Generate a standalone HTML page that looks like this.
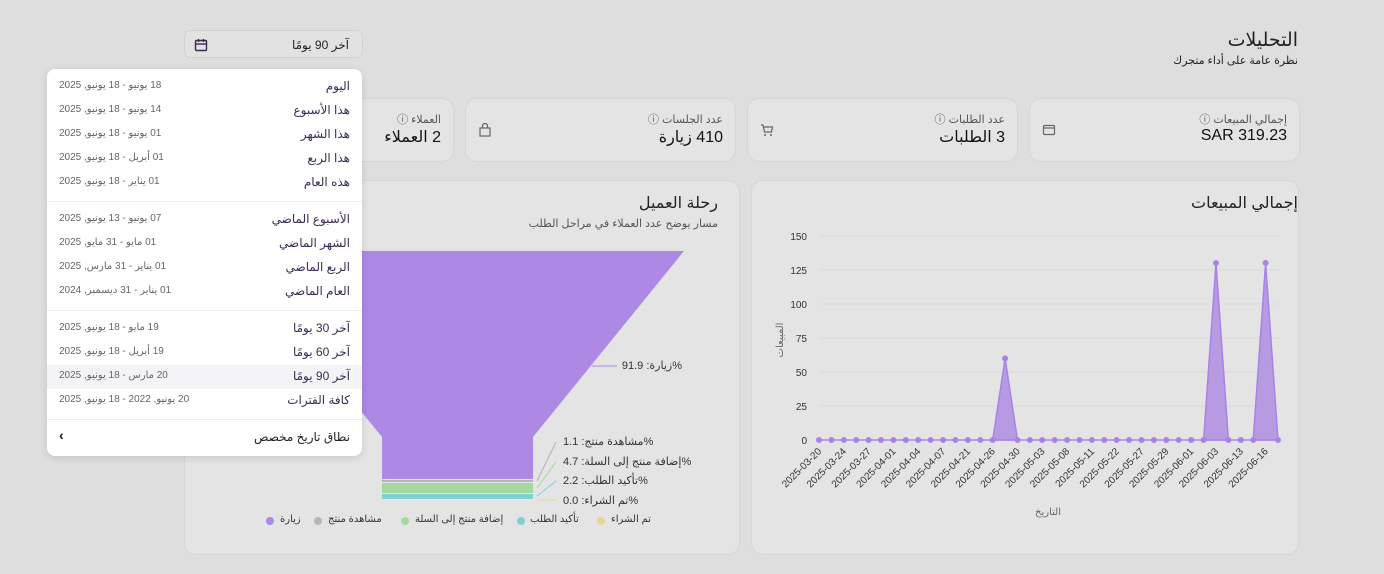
<!DOCTYPE html>
<html><head><meta charset="utf-8"><style>
*{box-sizing:border-box;margin:0;padding:0}
body{width:1384px;height:574px;background:#dedede;font-family:"Liberation Sans","DejaVu Sans",sans-serif;position:relative;overflow:hidden;color:#1f1f1f}
.a{position:absolute}
.card{position:absolute;background:#e4e4e4;border:1px solid #d6d6d6;border-radius:12px}
.rt{direction:rtl;text-align:right;white-space:nowrap}
.lbl{font-size:11px;color:#555}
.val{font-size:16px;color:#111}
.dd{position:absolute;left:47px;top:69px;width:315px;height:387px;background:#fff;border-radius:8px;box-shadow:0 2px 8px rgba(0,0,0,.12)}
.row{position:absolute;left:0;width:315px;height:24px}
.row .n{position:absolute;right:12px;top:4px;font-size:12px;color:#3b2a50;direction:rtl}
.row .d{position:absolute;left:12px;top:5px;font-size:10px;color:#666;direction:rtl}
.sep{position:absolute;left:0;width:315px;height:1px;background:#ececec}
</style></head><body>

<div class="a rt" style="right:86px;top:29px;font-size:19px;color:#222">التحليلات</div>
<div class="a rt" style="right:86px;top:54px;font-size:11px;color:#222">نظرة عامة على أداء متجرك</div>

<div class="a" style="left:184px;top:30px;width:179px;height:28px;border:1px solid #d2d2d2;border-radius:6px;background:#e2e2e2">
 <div class="a rt" style="right:13px;top:7px;font-size:12px;color:#222">آخر 90 يومًا</div>
 <svg class="a" style="left:9px;top:7px" width="14" height="14" viewBox="0 0 14 14"><rect x="1.5" y="2.5" width="11" height="10" rx="1" fill="none" stroke="#3b2a50" stroke-width="1.4"/><line x1="1.5" y1="6" x2="12.5" y2="6" stroke="#3b2a50" stroke-width="1.4"/><line x1="4.5" y1="1" x2="4.5" y2="4" stroke="#3b2a50" stroke-width="1.4"/><line x1="9.5" y1="1" x2="9.5" y2="4" stroke="#3b2a50" stroke-width="1.4"/></svg>
</div>

<!-- KPI cards -->
<div class="card" style="left:1029px;top:98px;width:271px;height:64px">
 <div class="a rt lbl" style="right:12px;top:12px">إجمالي المبيعات ⓘ</div>
 <div class="a val" style="right:12px;top:28px">SAR 319.23</div>
 <svg class="a" style="left:12px;top:24px" width="14" height="14"><rect x="1.5" y="2.5" width="11" height="9" rx="1" fill="none" stroke="#666" stroke-width="1.2"/><line x1="1.5" y1="5" x2="12" y2="5" stroke="#666" stroke-width="1.2"/></svg>
</div>
<div class="card" style="left:747px;top:98px;width:271px;height:64px">
 <div class="a rt lbl" style="right:12px;top:12px">عدد الطلبات ⓘ</div>
 <div class="a rt val" style="right:12px;top:28px">3 الطلبات</div>
 <svg class="a" style="left:12px;top:24px" width="14" height="14"><path d="M1 2h2l1.5 7h7l1-5H4" fill="none" stroke="#666" stroke-width="1.2"/><circle cx="5" cy="12" r="1" fill="#666"/><circle cx="11" cy="12" r="1" fill="#666"/></svg>
</div>
<div class="card" style="left:465px;top:98px;width:271px;height:64px">
 <div class="a rt lbl" style="right:12px;top:12px">عدد الجلسات ⓘ</div>
 <div class="a rt val" style="right:12px;top:28px">410 زيارة</div>
 <svg class="a" style="left:12px;top:24px" width="14" height="14"><rect x="2" y="5" width="10" height="8" fill="none" stroke="#666" stroke-width="1.2"/><path d="M4.5 5V3a2.5 2.5 0 0 1 5 0v2" fill="none" stroke="#666" stroke-width="1.2"/></svg>
</div>
<div class="card" style="left:183px;top:98px;width:271px;height:64px">
 <div class="a rt lbl" style="right:12px;top:12px">العملاء ⓘ</div>
 <div class="a rt val" style="right:12px;top:28px">2 العملاء</div>
</div>

<!-- Sales chart -->
<div class="card" style="left:751px;top:180px;width:548px;height:375px"></div>
<div class="a rt" style="right:86px;top:193px;font-size:16px;color:#222">إجمالي المبيعات</div>
<svg class="a" style="left:0;top:0" width="1384" height="574">
 <g stroke="#dadada" stroke-width="1">
  <line x1="819" y1="236" x2="1278" y2="236"/><line x1="819" y1="270" x2="1278" y2="270"/>
  <line x1="819" y1="304" x2="1278" y2="304"/><line x1="819" y1="338" x2="1278" y2="338"/>
  <line x1="819" y1="372" x2="1278" y2="372"/><line x1="819" y1="406" x2="1278" y2="406"/>
 </g>
 <g font-size="10" fill="#333" text-anchor="end" font-family="Liberation Sans,sans-serif">
  <text x="807" y="240">150</text><text x="807" y="274">125</text><text x="807" y="308">100</text>
  <text x="807" y="342">75</text><text x="807" y="376">50</text><text x="807" y="410">25</text><text x="807" y="444">0</text>
 </g>
 <text transform="translate(783,340) rotate(-90)" font-size="10" fill="#666" text-anchor="middle" font-family="DejaVu Sans,sans-serif">المبيعات</text>
 <text x="1048" y="515" font-size="10" fill="#666" text-anchor="middle" font-family="DejaVu Sans,sans-serif">التاريخ</text>
 <g fill="#b89ae3" stroke="#a983e4" stroke-width="1.5">
  <polygon points="992.7,440 1005.1,358.4 1017.5,440"/>
  <polygon points="1203.6,440 1216,263 1228.4,440"/>
  <polygon points="1253.2,440 1265.6,263 1278,440"/>
 </g>
 <line x1="819" y1="440" x2="1278" y2="440" stroke="#a983e4" stroke-width="1.5"/>
 <g fill="#a983e4">
  <circle cx="819" cy="440" r="3"/><circle cx="831.4" cy="440" r="3"/><circle cx="843.8" cy="440" r="3"/><circle cx="856.2" cy="440" r="3"/><circle cx="868.6" cy="440" r="3"/><circle cx="881" cy="440" r="3"/><circle cx="893.4" cy="440" r="3"/><circle cx="905.8" cy="440" r="3"/><circle cx="918.2" cy="440" r="3"/><circle cx="930.6" cy="440" r="3"/><circle cx="943" cy="440" r="3"/><circle cx="955.5" cy="440" r="3"/><circle cx="967.9" cy="440" r="3"/><circle cx="980.3" cy="440" r="3"/><circle cx="992.7" cy="440" r="3"/><circle cx="1005.1" cy="358.4" r="3"/><circle cx="1017.5" cy="440" r="3"/><circle cx="1029.9" cy="440" r="3"/><circle cx="1042.3" cy="440" r="3"/><circle cx="1054.7" cy="440" r="3"/><circle cx="1067.1" cy="440" r="3"/><circle cx="1079.5" cy="440" r="3"/><circle cx="1091.9" cy="440" r="3"/><circle cx="1104.3" cy="440" r="3"/><circle cx="1116.7" cy="440" r="3"/><circle cx="1129.1" cy="440" r="3"/><circle cx="1141.5" cy="440" r="3"/><circle cx="1153.9" cy="440" r="3"/><circle cx="1166.3" cy="440" r="3"/><circle cx="1178.7" cy="440" r="3"/><circle cx="1191.2" cy="440" r="3"/><circle cx="1203.6" cy="440" r="3"/><circle cx="1216" cy="263" r="3"/><circle cx="1228.4" cy="440" r="3"/><circle cx="1240.8" cy="440" r="3"/><circle cx="1253.2" cy="440" r="3"/><circle cx="1265.6" cy="263" r="3"/><circle cx="1278" cy="440" r="3"/>
 </g>
 <g font-size="10" fill="#333" text-anchor="end" font-family="Liberation Sans,sans-serif">
  <text transform="translate(822,452) rotate(-45)">2025-03-20</text>
  <text transform="translate(846.8,452) rotate(-45)">2025-03-24</text>
  <text transform="translate(871.6,452) rotate(-45)">2025-03-27</text>
  <text transform="translate(896.4,452) rotate(-45)">2025-04-01</text>
  <text transform="translate(921.2,452) rotate(-45)">2025-04-04</text>
  <text transform="translate(946,452) rotate(-45)">2025-04-07</text>
  <text transform="translate(970.9,452) rotate(-45)">2025-04-21</text>
  <text transform="translate(995.7,452) rotate(-45)">2025-04-26</text>
  <text transform="translate(1020.5,452) rotate(-45)">2025-04-30</text>
  <text transform="translate(1045.3,452) rotate(-45)">2025-05-03</text>
  <text transform="translate(1070.1,452) rotate(-45)">2025-05-08</text>
  <text transform="translate(1094.9,452) rotate(-45)">2025-05-11</text>
  <text transform="translate(1119.7,452) rotate(-45)">2025-05-22</text>
  <text transform="translate(1144.5,452) rotate(-45)">2025-05-27</text>
  <text transform="translate(1169.3,452) rotate(-45)">2025-05-29</text>
  <text transform="translate(1194.2,452) rotate(-45)">2025-06-01</text>
  <text transform="translate(1219,452) rotate(-45)">2025-06-03</text>
  <text transform="translate(1243.8,452) rotate(-45)">2025-06-13</text>
  <text transform="translate(1268.6,452) rotate(-45)">2025-06-16</text>
 </g>
</svg>

<!-- Funnel chart -->
<div class="card" style="left:184px;top:180px;width:556px;height:375px"></div>
<div class="a rt" style="right:666px;top:193px;font-size:16px;color:#222">رحلة العميل</div>
<div class="a rt" style="right:666px;top:217px;font-size:11px;color:#555">مسار يوضح عدد العملاء في مراحل الطلب</div>
<svg class="a" style="left:0;top:0" width="1384" height="574">
 <polygon points="231,251 684,251 533,437 533,479 382,479 382,437" fill="#ad88e5"/>
 <rect x="382" y="480" width="151" height="2" fill="#b5b5b5"/>
 <rect x="382" y="483" width="151" height="10" fill="#a3d99e"/>
 <rect x="382" y="494" width="151" height="5" fill="#80d0d0"/>
 <line x1="592" y1="366" x2="617" y2="366" stroke="#ad88e5"/>
 <line x1="537" y1="481" x2="556" y2="442" stroke="#b5b5b5"/>
 <line x1="537" y1="488" x2="556" y2="462" stroke="#a3d99e"/>
 <line x1="537" y1="496" x2="556" y2="481" stroke="#80d0d0"/>
 <line x1="537" y1="500" x2="556" y2="500" stroke="#e6d597"/>
 <g font-size="11" fill="#333" font-family="DejaVu Sans,sans-serif" text-anchor="end" direction="rtl">
 </g>
 <g fill="#ad88e5"><circle cx="270" cy="521" r="4"/></g>
 <circle cx="318" cy="521" r="4" fill="#b5b5b5"/>
 <circle cx="405" cy="521" r="4" fill="#a3d99e"/>
 <circle cx="521" cy="521" r="4" fill="#80d0d0"/>
 <circle cx="601" cy="521" r="4" fill="#e6d597"/>
</svg>
<div class="a rt" style="left:622px;top:359px;font-size:11px;color:#333;width:60px;text-align:left">%زيارة: 91.9</div>
<div class="a rt" style="left:563px;top:435px;font-size:11px;color:#333">%مشاهدة منتج: 1.1</div>
<div class="a rt" style="left:563px;top:455px;font-size:11px;color:#333">%إضافة منتج إلى السلة: 4.7</div>
<div class="a rt" style="left:563px;top:474px;font-size:11px;color:#333">%تأكيد الطلب: 2.2</div>
<div class="a rt" style="left:563px;top:494px;font-size:11px;color:#333">%تم الشراء: 0.0</div>
<div class="a rt" style="left:611px;top:514px;font-size:10px;color:#333">تم الشراء</div>
<div class="a rt" style="left:530px;top:514px;font-size:10px;color:#333">تأكيد الطلب</div>
<div class="a rt" style="left:415px;top:514px;font-size:10px;color:#333">إضافة منتج إلى السلة</div>
<div class="a rt" style="left:328px;top:514px;font-size:10px;color:#333">مشاهدة منتج</div>
<div class="a rt" style="left:280px;top:514px;font-size:10px;color:#333">زيارة</div>

<!-- Dropdown -->
<div class="dd">
 <div class="row" style="top:6px"><span class="n">اليوم</span><span class="d">18 يونيو - 18 يونيو, 2025</span></div>
 <div class="row" style="top:30px"><span class="n">هذا الأسبوع</span><span class="d">14 يونيو - 18 يونيو, 2025</span></div>
 <div class="row" style="top:54px"><span class="n">هذا الشهر</span><span class="d">01 يونيو - 18 يونيو, 2025</span></div>
 <div class="row" style="top:78px"><span class="n">هذا الربع</span><span class="d">01 أبريل - 18 يونيو, 2025</span></div>
 <div class="row" style="top:102px"><span class="n">هذه العام</span><span class="d">01 يناير - 18 يونيو, 2025</span></div>
 <div class="sep" style="top:132px"></div>
 <div class="row" style="top:139px"><span class="n">الأسبوع الماضي</span><span class="d">07 يونيو - 13 يونيو, 2025</span></div>
 <div class="row" style="top:163px"><span class="n">الشهر الماضي</span><span class="d">01 مايو - 31 مايو, 2025</span></div>
 <div class="row" style="top:187px"><span class="n">الربع الماضي</span><span class="d">01 يناير - 31 مارس, 2025</span></div>
 <div class="row" style="top:211px"><span class="n">العام الماضي</span><span class="d">01 يناير - 31 ديسمبر, 2024</span></div>
 <div class="sep" style="top:241px"></div>
 <div class="row" style="top:248px"><span class="n">آخر 30 يومًا</span><span class="d">19 مايو - 18 يونيو, 2025</span></div>
 <div class="row" style="top:272px"><span class="n">آخر 60 يومًا</span><span class="d">19 أبريل - 18 يونيو, 2025</span></div>
 <div class="row" style="top:296px;background:#f4f4f6"><span class="n">آخر 90 يومًا</span><span class="d">20 مارس - 18 يونيو, 2025</span></div>
 <div class="row" style="top:320px"><span class="n">كافة الفترات</span><span class="d">20 يونيو, 2022 - 18 يونيو, 2025</span></div>
 <div class="sep" style="top:350px"></div>
 <div class="row" style="top:357px"><span class="n" style="color:#222">نطاق تاريخ مخصص</span><span class="d" style="color:#111;font-size:14px;top:1px;font-weight:bold">›</span></div>
</div>
</body></html>
